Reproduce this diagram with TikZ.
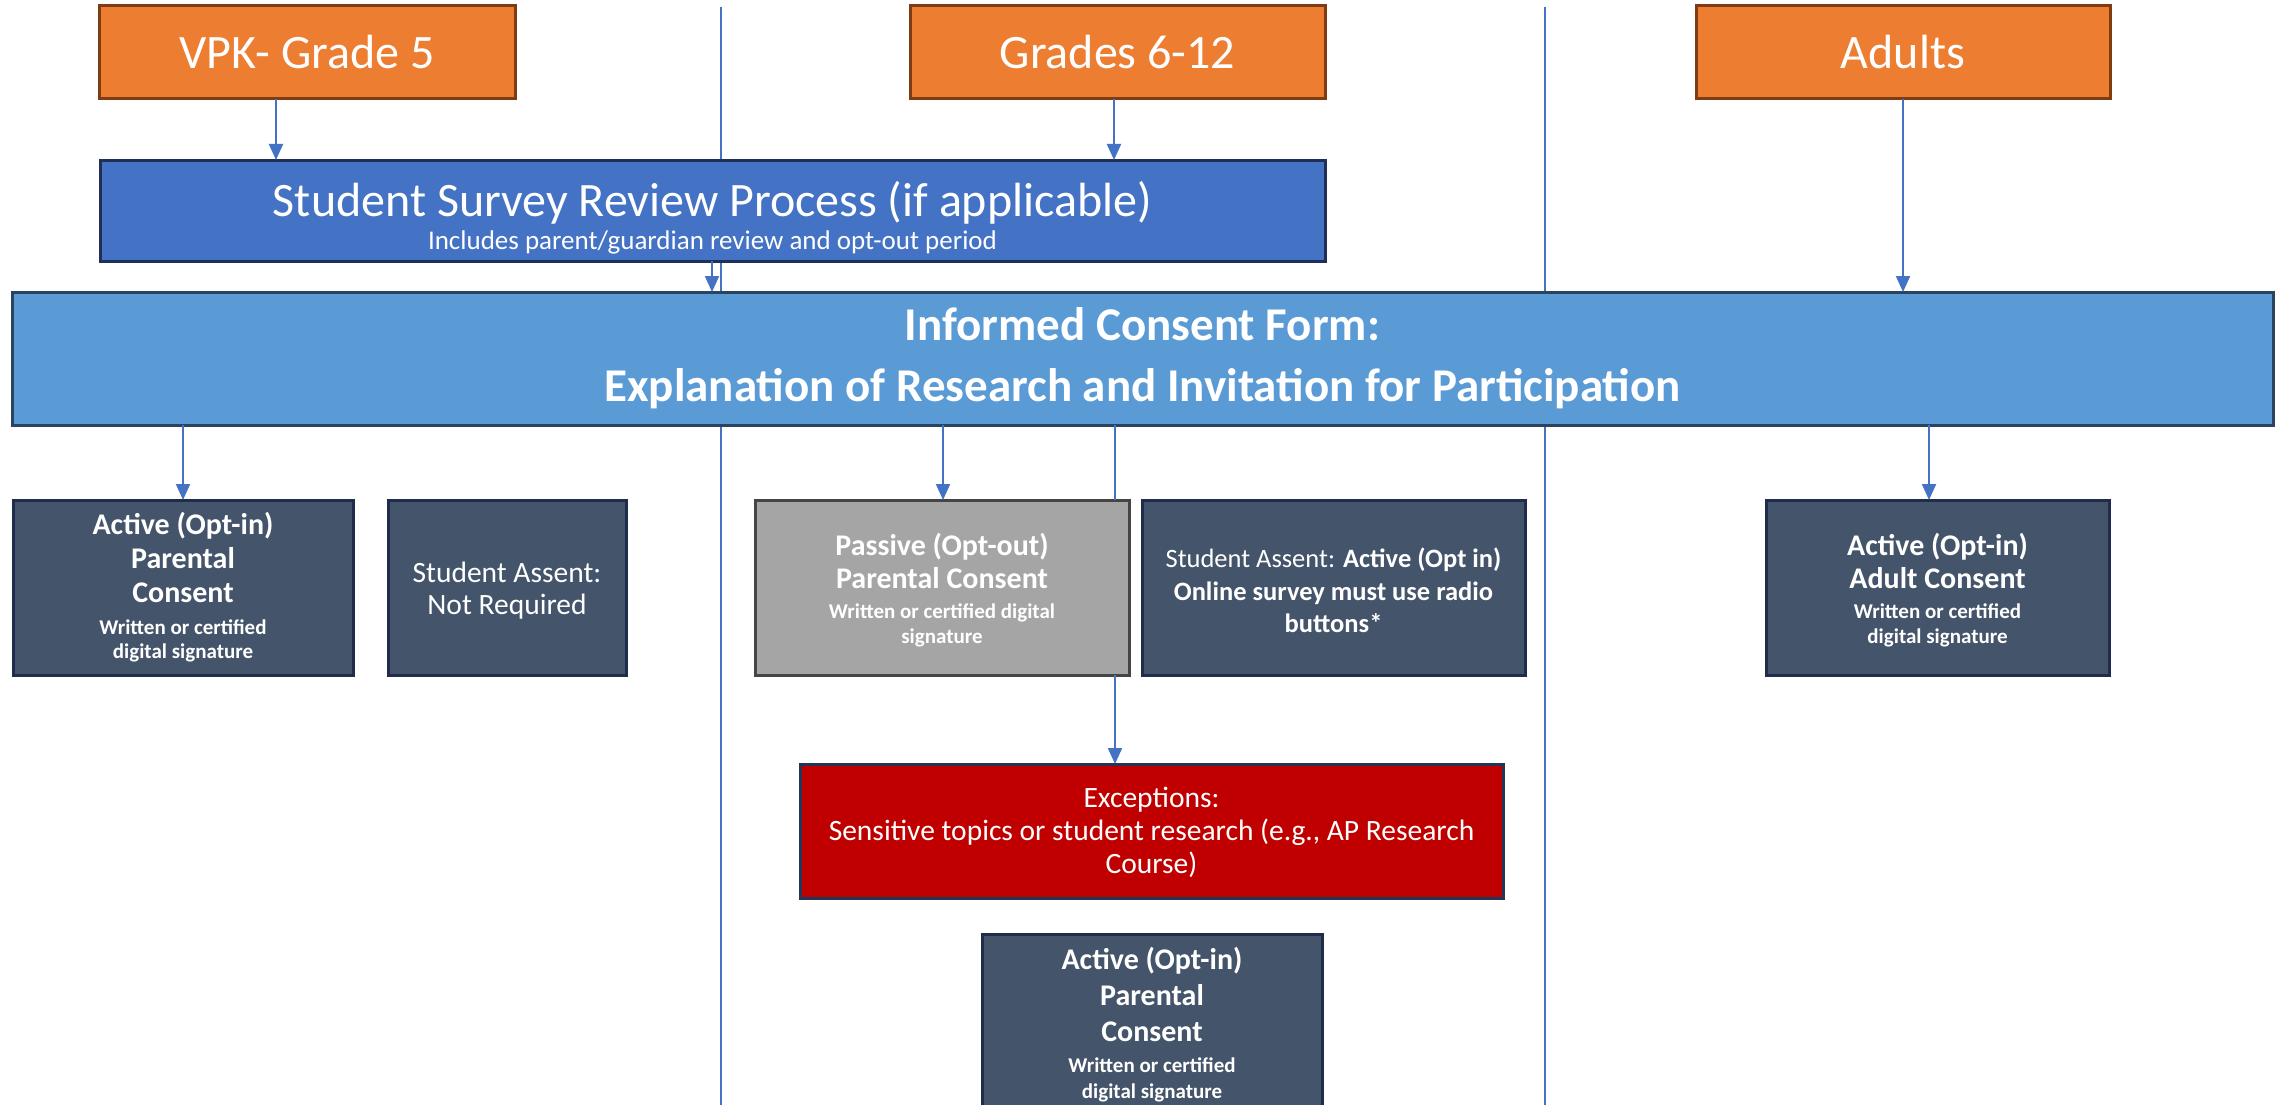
\documentclass[tikz,border=0pt]{standalone}
\usepackage{fontspec}
\setmainfont{Carlito}
\usetikzlibrary{arrows.meta}
\definecolor{orF}{HTML}{ED7D31}
\definecolor{orD}{HTML}{7F3B12}
\definecolor{blF}{HTML}{4472C4}
\definecolor{blD}{HTML}{1F2F55}
\definecolor{lbF}{HTML}{5B9BD5}
\definecolor{lbD}{HTML}{2A4460}
\definecolor{dkF}{HTML}{44546A}
\definecolor{dkD}{HTML}{1F2D4A}
\definecolor{grF}{HTML}{A5A5A5}
\definecolor{grD}{HTML}{454545}
\definecolor{rdF}{HTML}{C00000}
\definecolor{rdD}{HTML}{243655}
\definecolor{arr}{HTML}{4472C4}
\tikzset{
  box/.style={draw, line width=3pt, inner sep=0pt, outer sep=0pt, text=white, align=center, minimum height=175pt},
  hdr/.style={box, fill=orF, draw=orD, minimum height=93pt, font=\fontsize{48}{58}\selectfont},
  dkbox/.style={box, fill=dkF, draw=dkD},
  consbox/.style={dkbox, font=\fontsize{30}{34}\selectfont\bfseries},
  conn/.style={draw=arr, line width=2pt, -{Triangle[length=16pt,width=14pt]}},
  sep/.style={draw=arr, line width=1.2pt},
}
\newcommand{\SmB}{\fontsize{21}{24}\selectfont\bfseries}
\newcommand{\Lift}[1]{\rule{0pt}{#1}}
\begin{document}
\begin{tikzpicture}[x=1pt,y=-1pt]
\useasboundingbox (0,0) rectangle (2275,1105);
\fill[white] (0,0) rectangle (2275,1105);
% separators
\coordinate (s1t) at (721,7);
\coordinate (s1b) at (721,1105);
\coordinate (s2t) at (1545,7);
\coordinate (s2b) at (1545,1105);
\draw[sep] (s1t) -- (s1b);
\draw[sep] (s2t) -- (s2b);
% headers
\node[hdr, minimum width=416pt] (vpk) at (307,52.5) {VPK- Grade 5};
\node[hdr, minimum width=415pt] (g612) at (1117.5,52.5) {Grades 6-12};
\node[hdr, minimum width=414pt] (adults) at (1903,52.5) {Adults};
% survey
\node[box, fill=blF, draw=blD, minimum width=1225pt, minimum height=101pt,
      font=\fontsize{27}{33}\selectfont] (survey) at (712.5,210.5)
  {\fontsize{48}{33}\selectfont\Lift{49pt}Student Survey Review Process (if applicable)\\
   Includes parent/guardian review and opt-out period};
% consent
\node[box, fill=lbF, draw=lbD, minimum width=2261pt, minimum height=133pt,
      font=\fontsize{47}{61}\selectfont\bfseries] (consent) at (1142.5,358.5)
  {Informed Consent Form:\\ Explanation of Research and Invitation for Participation};
% row
\node[consbox, minimum width=340pt] (act1) at (183,587.5)
  {Active (Opt-in)\\ Parental\\ Consent\\[-2pt] \SmB Written or certified\\[-10pt] \SmB digital signature};
\node[dkbox, minimum width=238pt, font=\fontsize{29.5}{32}\selectfont] (nr) at (507,587.5)
  {\Lift{27pt}Student Assent:\\ Not Required};
\node[box, fill=grF, draw=grD, minimum width=374pt, font=\fontsize{30}{33}\selectfont\bfseries] (pass) at (942,587.5)
  {\Lift{27pt}Passive (Opt-out)\\ Parental Consent\\[-3pt] \SmB Written or certified digital\\[-8pt] \SmB signature};
\node[dkbox, minimum width=383pt, font=\fontsize{26.5}{32.5}\selectfont] (saa) at (1333.5,587.5)
  {\Lift{26pt}Student Assent: \textbf{Active (Opt in)}\\ \bfseries Online survey must use radio\\ \bfseries buttons*};
\node[consbox, minimum width=343pt, font=\fontsize{30}{33}\selectfont\bfseries] (adc) at (1937.5,587.5)
  {\Lift{27pt}Active (Opt-in)\\ Adult Consent\\[-3pt] \SmB Written or certified\\[-8pt] \SmB digital signature};
% exceptions
\node[box, fill=rdF, draw=rdD, minimum width=703pt, minimum height=134pt,
      font=\fontsize{29.5}{33}\selectfont] (exc) at (1151.5,831)
  {\Lift{24pt}Exceptions:\\ Sensitive topics or student research (e.g., AP Research\\ Course)};
% bottom
\node[consbox, minimum width=340pt, minimum height=182pt, anchor=north, font=\fontsize{30}{36}\selectfont\bfseries] (act2) at (1152,934)
  {Active (Opt-in)\\ Parental\\ Consent\\[-5pt] \SmB Written or certified\\[-10pt] \SmB digital signature};
% connectors
\draw[conn] (vpk.south -| 276,0) -- (survey.north -| 276,0);
\draw[conn] (g612.south -| 1114,0) -- (survey.north -| 1114,0);
\draw[conn] (adults.south -| 1903,0) -- (consent.north -| 1903,0);
\draw[conn] (survey.south -| 712,0) -- (consent.north -| 712,0);
\draw[conn] (consent.south -| 183,0) -- (act1.north -| 183,0);
\draw[conn] (consent.south -| 943,0) -- (pass.north -| 943,0);
\draw[conn] (consent.south -| 1929,0) -- (adc.north -| 1929,0);
\draw[draw=arr, line width=2pt] (consent.south -| 1115,0) -- (pass.north -| 1115,0);
\draw[conn] (pass.south -| 1115,0) -- (exc.north -| 1115,0);
\end{tikzpicture}
\end{document}
